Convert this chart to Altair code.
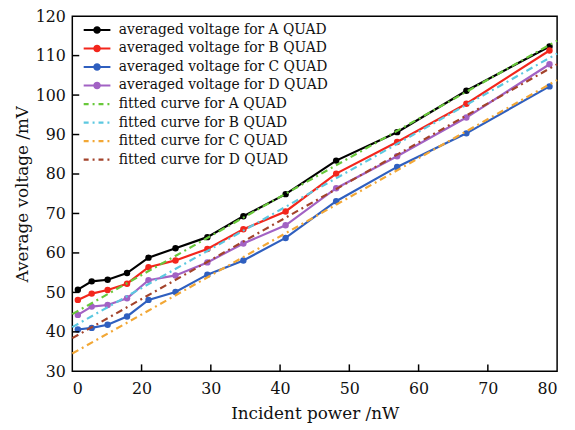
import altair as alt
import pandas as pd

# ---- data ----
power = [10.8, 12.8, 15.1, 17.9, 21.0, 24.9, 29.5, 34.7, 40.8, 48.1, 56.9, 66.9, 78.9]
volt_A = [50.7, 52.8, 53.2, 54.9, 58.8, 61.2, 64.0, 69.3, 74.9, 83.4, 90.6, 101.1, 112.3]
volt_B = [48.1, 49.7, 50.6, 52.2, 56.4, 58.1, 61.0, 66.0, 70.5, 80.1, 88.1, 97.8, 111.3]
volt_C = [40.6, 41.0, 41.8, 43.9, 48.1, 50.1, 54.5, 58.1, 63.8, 73.1, 81.8, 90.3, 102.2]
volt_D = [44.3, 46.4, 46.8, 48.5, 53.1, 54.3, 57.6, 62.4, 67.0, 76.4, 84.5, 94.3, 107.8]

fit_power = [10, 80]
fit_A = [44.5, 113.8]
fit_B = [41.2, 110.5]
fit_C = [34.5, 103.8]
fit_D = [38.4, 107.8]

avg_names = ["averaged voltage for A QUAD", "averaged voltage for B QUAD",
             "averaged voltage for C QUAD", "averaged voltage for D QUAD"]
fit_names = ["fitted curve for A QUAD", "fitted curve for B QUAD",
             "fitted curve for C QUAD", "fitted curve for D QUAD"]
avg_colors = ["#000000", "#f3261c", "#2f5fbf", "#a262c4"]
fit_colors = ["#68c83a", "#5cc8e0", "#f2a735", "#a3432b"]

x_ticks = [10, 20, 30, 40, 50, 60, 70, 80]
y_ticks = [30, 40, 50, 60, 70, 80, 90, 100, 110, 120]
inner_x_ticks = [20, 30, 40, 50, 60, 70]
inner_y_ticks = [40, 50, 60, 70, 80, 90, 100, 110]

# ---- tables ----
avg_rows = []
for name, vals in zip(avg_names, [volt_A, volt_B, volt_C, volt_D]):
    for p, v in zip(power, vals):
        avg_rows.append({"power": p, "volt": v, "series": name})
avg_df = pd.DataFrame(avg_rows)

fit_rows = []
for name, vals in zip(fit_names, [fit_A, fit_B, fit_C, fit_D]):
    for p, v in zip(fit_power, vals):
        fit_rows.append({"power": p, "volt": v, "fit": name})
fit_df = pd.DataFrame(fit_rows)

W, H = 490, 359
FONT = "DejaVu Serif"

xscale = alt.Scale(domain=[10, 80], nice=False, zero=False)
yscale = alt.Scale(domain=[30, 120], nice=False, zero=False)

xaxis = alt.Axis(values=x_ticks, labelExpr="datum.value == 10 ? '0' : datum.label",
                 tickSize=0, grid=False, domain=False, labelPadding=9,
                 labelOverlap=False, titlePadding=10)
yaxis = alt.Axis(values=y_ticks, tickSize=0, grid=False, domain=False,
                 labelOverlap=False, labelPadding=7, titlePadding=4)
xenc = alt.X("power:Q", scale=xscale, title="Incident power /nW", axis=xaxis)
yenc = alt.Y("volt:Q", scale=yscale, title="Average voltage /mV", axis=yaxis)

avg_legend = alt.Legend(title=None, orient="none", legendX=10, legendY=6,
                        symbolType="M-1,0H1M-0.2,0A0.2,0.2,0,1,0,0.2,0A0.2,0.2,0,1,0,-0.2,0Z",
                        symbolSize=729, symbolStrokeWidth=2.2, clipHeight=16, rowPadding=2.7,
                        labelOffset=7, labelFont=FONT, labelFontSize=14, labelColor="#111",
                        padding=0, labelLimit=400)
fit_legend = alt.Legend(title=None, orient="none", legendX=10, legendY=81,
                        symbolType="stroke", symbolSize=729, symbolStrokeWidth=2.2,
                        symbolDash=[5, 4, 2, 4], clipHeight=16, rowPadding=2.7,
                        labelOffset=7, labelFont=FONT, labelFontSize=14, labelColor="#111",
                        padding=0, labelLimit=400)

avg_color = alt.Color("series:N", scale=alt.Scale(domain=avg_names, range=avg_colors),
                      legend=avg_legend)
fit_color = alt.Color("fit:N", scale=alt.Scale(domain=fit_names, range=fit_colors),
                      legend=fit_legend)

avg_lines = alt.Chart(avg_df).mark_line(strokeWidth=2.2).encode(x=xenc, y=yenc, color=avg_color)
avg_pts = alt.Chart(avg_df).mark_point(filled=True, size=42, opacity=1).encode(
    x=xenc, y=yenc, color=avg_color)
avg = alt.layer(avg_lines, avg_pts)

fit = alt.Chart(fit_df).mark_line(strokeWidth=2.2, strokeDash=[7, 4, 2, 4]).encode(
    x=xenc, y=yenc, color=fit_color)

ytick_df = pd.DataFrame({"volt": inner_y_ticks})
xtick_df = pd.DataFrame({"power": inner_x_ticks})
yticks = alt.Chart(ytick_df).mark_rule(color="black", strokeWidth=1.5).encode(
    y=alt.Y("volt:Q", scale=yscale, title="Average voltage /mV", axis=yaxis),
    x=alt.value(0), x2=alt.value(7))
xticks = alt.Chart(xtick_df).mark_rule(color="black", strokeWidth=1.5).encode(
    x=alt.X("power:Q", scale=xscale, title="Incident power /nW", axis=xaxis),
    y=alt.value(H), y2=alt.value(H - 7))

chart = alt.layer(avg, fit, yticks, xticks).resolve_scale(color="independent").properties(
    width=W, height=H,
    background="white",
    autosize=alt.AutoSizeParams(type="none"),
    padding={"left": 65, "top": 6, "right": 10, "bottom": 50},
).configure_view(stroke="black", strokeWidth=1.5).configure_axis(
    labelFont=FONT, labelFontSize=16, labelColor="#111", labelOverlap=False,
    titleFont=FONT, titleFontSize=17, titleFontWeight="normal", titleColor="#111",
)

chart.save("out.html", embed_options={"renderer": "svg", "actions": False})
